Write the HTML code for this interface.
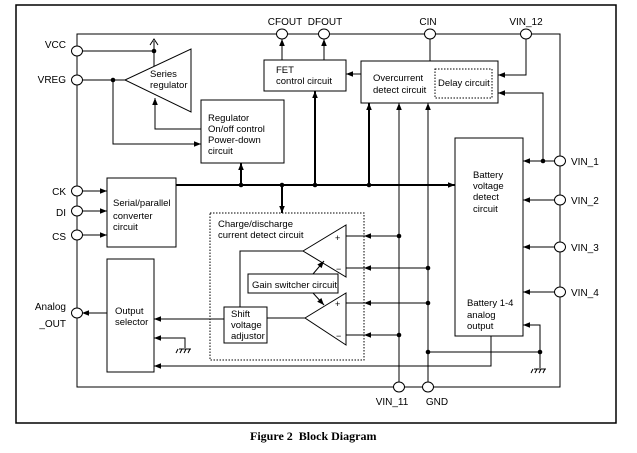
<!DOCTYPE html>
<html><head><style>body{margin:0;background:#fff}svg{display:block}</style></head><body>
<svg width="637" height="453" viewBox="0 0 637 453" xmlns="http://www.w3.org/2000/svg" font-family="Liberation Sans, sans-serif" font-size="9.5">
<defs>
<marker id="a" viewBox="0 0 10 10" refX="10" refY="5" markerWidth="8" markerHeight="7" markerUnits="userSpaceOnUse" orient="auto"><path d="M0,1L10,5L0,9z" fill="#000"/></marker>
</defs>
<rect x="16" y="5" width="600" height="418" fill="none" stroke="#000" stroke-width="1.5"/>
<g fill="none" stroke="#000" stroke-width="1">
<path d="M77,34H560V387H77Z"/>
<path d="M77,51H154V41"/><path d="M150,45L154,39L158,45"/><path d="M154,51V66"/>
<path d="M125,80L191,49V112Z"/>
<path d="M77,80H125"/><path d="M113,80V144H201" marker-end="url(#a)"/>
<path d="M201,129H155V98" marker-end="url(#a)"/>
<rect x="201" y="100" width="83" height="63"/>
<path d="M176,185H455" stroke-width="2" marker-end="url(#a)"/>
<path d="M241,185V163" stroke-width="2" marker-end="url(#a)"/>
<path d="M282,185V213" stroke-width="2" marker-end="url(#a)"/>
<path d="M315,185V91" stroke-width="2" marker-end="url(#a)"/>
<path d="M369,185V103" stroke-width="2" marker-end="url(#a)"/>
<rect x="264" y="60" width="82" height="31"/>
<path d="M282,60V39" marker-end="url(#a)"/>
<path d="M324,60V39" marker-end="url(#a)"/>
<rect x="361" y="61" width="137" height="42"/>
<rect x="435" y="69" width="57" height="29" stroke-dasharray="1.5,1.5"/>
<path d="M361,74H346" marker-end="url(#a)"/>
<path d="M430,34V61"/>
<path d="M526,34V75H498" marker-end="url(#a)"/>
<path d="M543,161V93H498" marker-end="url(#a)"/>
<path d="M399,387V103" marker-end="url(#a)"/>
<path d="M428,387V103" marker-end="url(#a)"/>
<rect x="455" y="138" width="68" height="198"/>
<path d="M560,161H523" marker-end="url(#a)"/>
<path d="M560,200H523" marker-end="url(#a)"/>
<path d="M560,247H523" marker-end="url(#a)"/>
<path d="M560,292H523" marker-end="url(#a)"/>
<path d="M540,352V325H523" marker-end="url(#a)"/>
<path d="M428,352H540V368"/>
<path d="M534,369H546M533,369l-2,4M537,369l-2,4M541,369l-2,4M545,369l-2,4"/>
<path d="M491,336V366H154" marker-end="url(#a)"/>
<rect x="210" y="213" width="154" height="147" stroke-dasharray="1.5,1.5"/>
<path d="M303,251L346,225V277Z"/>
<path d="M305,318L346,293V345Z"/>
<path d="M399,236H364" marker-end="url(#a)"/><path d="M364,236H346"/>
<path d="M428,268H364" marker-end="url(#a)"/><path d="M364,268H346"/>
<path d="M428,303H364" marker-end="url(#a)"/><path d="M364,303H346"/>
<path d="M399,335H364" marker-end="url(#a)"/><path d="M364,335H346"/>
<rect x="248" y="274" width="90" height="19"/>
<path d="M313,274L324,261" marker-end="url(#a)"/>
<path d="M313,293L324,305" marker-end="url(#a)"/>
<rect x="224" y="307" width="43" height="36"/>
<path d="M303,251H240V307"/>
<path d="M267,318H305"/>
<path d="M224,319H154" marker-end="url(#a)"/>
<rect x="107" y="259" width="47" height="113"/>
<path d="M185,348V338H154" marker-end="url(#a)"/>
<path d="M179,349H191M178,349l-2,4M182,349l-2,4M186,349l-2,4M190,349l-2,4"/>
<path d="M107,313H82" marker-end="url(#a)"/>
<rect x="107" y="178" width="69" height="69"/>
<path d="M82,191H107" marker-end="url(#a)"/>
<path d="M82,211H107" marker-end="url(#a)"/>
<path d="M82,235H107" marker-end="url(#a)"/>
</g>
<g fill="#000">
<circle cx="154" cy="51" r="2.3"/><circle cx="113" cy="80" r="2.3"/>
<circle cx="241" cy="185" r="2.3"/><circle cx="282" cy="185" r="2.3"/><circle cx="315" cy="185" r="2.3"/><circle cx="369" cy="185" r="2.3"/>
<circle cx="543" cy="161" r="2.3"/><circle cx="540" cy="352" r="2.3"/><circle cx="428" cy="352" r="2.3"/>
<circle cx="399" cy="236" r="2.3"/><circle cx="399" cy="335" r="2.3"/><circle cx="428" cy="268" r="2.3"/><circle cx="428" cy="303" r="2.3"/>
</g>
<g fill="#fff" stroke="#000" stroke-width="1">
<ellipse cx="77" cy="51" rx="5.5" ry="5"/><ellipse cx="77" cy="80" rx="5.5" ry="5"/>
<ellipse cx="77" cy="191" rx="5.5" ry="5"/><ellipse cx="77" cy="211" rx="5.5" ry="5"/><ellipse cx="77" cy="235" rx="5.5" ry="5"/><ellipse cx="77" cy="313" rx="5.5" ry="5"/>
<ellipse cx="282" cy="34" rx="5.5" ry="5"/><ellipse cx="324" cy="34" rx="5.5" ry="5"/><ellipse cx="430" cy="34" rx="5.5" ry="5"/><ellipse cx="526" cy="34" rx="5.5" ry="5"/>
<ellipse cx="560" cy="161" rx="5.5" ry="5"/><ellipse cx="560" cy="200" rx="5.5" ry="5"/><ellipse cx="560" cy="247" rx="5.5" ry="5"/><ellipse cx="560" cy="292" rx="5.5" ry="5"/>
<ellipse cx="399" cy="387" rx="5.5" ry="5"/><ellipse cx="428" cy="387" rx="5.5" ry="5"/>
</g>
<g font-size="10" text-anchor="end">
<text x="66" y="48">VCC</text><text x="66" y="83">VREG</text>
<text x="66" y="195">CK</text><text x="66" y="216">DI</text><text x="66" y="240">CS</text>
<text x="66" y="310">Analog</text><text x="66" y="327">_OUT</text>
</g>
<g font-size="10" text-anchor="middle">
<text x="285" y="25">CFOUT</text><text x="325" y="25">DFOUT</text><text x="428" y="25">CIN</text><text x="526" y="25">VIN_12</text>
<text x="392" y="405">VIN_11</text><text x="437" y="405">GND</text>
</g>
<g font-size="10">
<text x="571" y="165">VIN_1</text><text x="571" y="204">VIN_2</text><text x="571" y="251">VIN_3</text><text x="571" y="296">VIN_4</text>
</g>
<text x="150" y="77">Series</text><text x="150" y="88">regulator</text>
<text x="208" y="121">Regulator</text><text x="208" y="132">On/off control</text><text x="208" y="143">Power-down</text><text x="208" y="154">circuit</text>
<text x="276" y="73">FET</text><text x="276" y="84">control circuit</text>
<text x="373" y="81">Overcurrent</text><text x="373" y="93">detect circuit</text>
<text x="438" y="86">Delay circuit</text>
<text x="473" y="178">Battery</text><text x="473" y="189">voltage</text><text x="473" y="200">detect</text><text x="473" y="212">circuit</text>
<text x="467" y="306">Battery 1-4</text><text x="467" y="318">analog</text><text x="467" y="329">output</text>
<text x="113" y="206">Serial/parallel</text><text x="113" y="219">converter</text><text x="113" y="230">circuit</text>
<text x="218" y="227">Charge/discharge</text><text x="218" y="238">current detect circuit</text>
<text x="252" y="288">Gain switcher circuit</text>
<text x="231" y="317">Shift</text><text x="231" y="328">voltage</text><text x="231" y="339">adjustor</text>
<text x="115" y="314">Output</text><text x="115" y="325">selector</text>
<g font-size="9"><text x="335" y="241">+</text><text x="336" y="272">−</text><text x="335" y="307">+</text><text x="336" y="339">−</text></g>
<text x="250" y="440" font-family="Liberation Serif, serif" font-weight="bold" font-size="12" xml:space="preserve">Figure 2  Block Diagram</text>
</svg>
</body></html>
